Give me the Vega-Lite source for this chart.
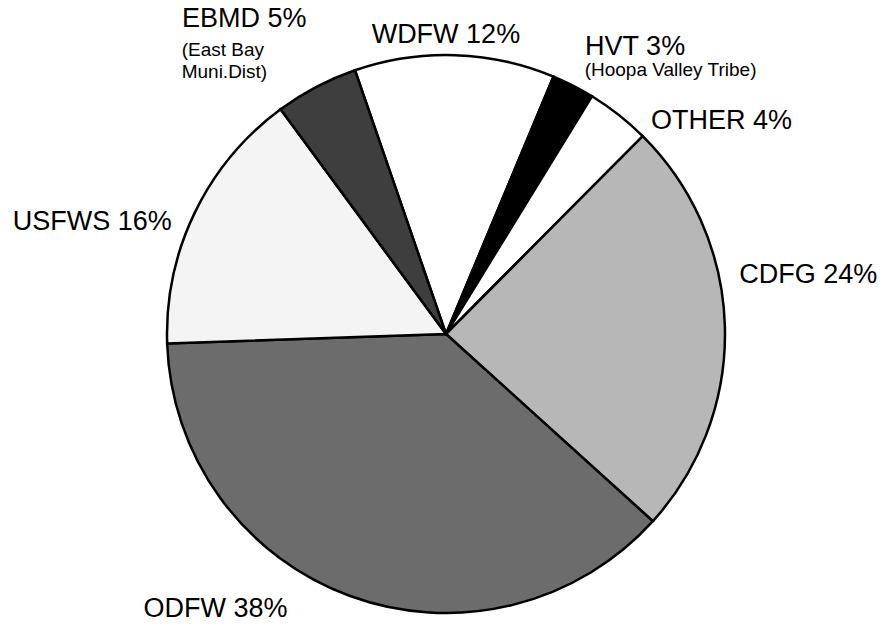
{
  "$schema": "https://vega.github.io/schema/vega-lite/v6.json",
  "autosize": "none",
  "width": 892,
  "height": 584,
  "padding": {"top": 42, "left": 0, "right": 0, "bottom": 0},
  "background": "white",
  "config": {"view": {"stroke": null}, "text": {"font": "Liberation Sans"}},
  "data": {
    "values": [
      {"k": 1, "name": "WDFW", "share": 11.58, "label": "WDFW 12%", "sub": ""},
      {"k": 2, "name": "HVT", "share": 2.47, "label": "HVT 3%", "sub": "(Hoopa Valley Tribe)"},
      {"k": 3, "name": "OTHER", "share": 3.69, "label": "OTHER 4%", "sub": ""},
      {"k": 4, "name": "CDFG", "share": 24.25, "label": "CDFG 24%", "sub": ""},
      {"k": 5, "name": "ODFW", "share": 37.75, "label": "ODFW 38%", "sub": ""},
      {"k": 6, "name": "USFWS", "share": 15.44, "label": "USFWS 16%", "sub": ""},
      {"k": 7, "name": "EBMD", "share": 4.81, "label": "EBMD 5%", "sub": "(East Bay\nMuni.Dist)"}
    ]
  },
  "encoding": {
    "theta": {"field": "share", "type": "quantitative", "stack": true, "scale": {"range": [5.951, 12.234]}},
    "order": {"field": "k", "type": "quantitative"}
  },
  "layer": [
    {
      "mark": {"type": "arc", "outerRadius": 279, "stroke": "black", "strokeWidth": 2.5},
      "encoding": {
        "color": {
          "field": "name", "type": "nominal", "legend": null,
          "scale": {
            "domain": ["WDFW", "HVT", "OTHER", "CDFG", "ODFW", "USFWS", "EBMD"],
            "range": ["#ffffff", "#000000", "#ffffff", "#b7b7b7", "#6c6c6c", "#f4f4f4", "#3e3e3e"]
          }
        }
      }
    },
    {
      "mark": {
        "type": "text", "fontSize": 27, "align": "center", "baseline": "middle", "color": "black",
        "radius": {"expr": "datum.name==='WDFW'?299:datum.name==='HVT'?344:datum.name==='OTHER'?348:datum.name==='CDFG'?367:datum.name==='ODFW'?359:datum.name==='USFWS'?371:374"},
        "thetaOffset": {"expr": "datum.name==='WDFW'?-0.032:datum.name==='HVT'?0.109:datum.name==='OTHER'?0.247:datum.name==='CDFG'?-0.134:datum.name==='ODFW'?0.346:datum.name==='USFWS'?-0.145:-0.086"}
      },
      "encoding": {"text": {"field": "label"}}
    },
    {
      "mark": {
        "type": "text", "fontSize": 19, "align": "left", "baseline": "middle", "color": "black",
        "lineBreak": "\n", "lineHeight": 22,
        "radius": {"expr": "datum.name==='HVT'?298:388"},
        "thetaOffset": {"expr": "datum.name==='HVT'?0.011:-0.266"}
      },
      "encoding": {"text": {"field": "sub"}}
    }
  ]
}
